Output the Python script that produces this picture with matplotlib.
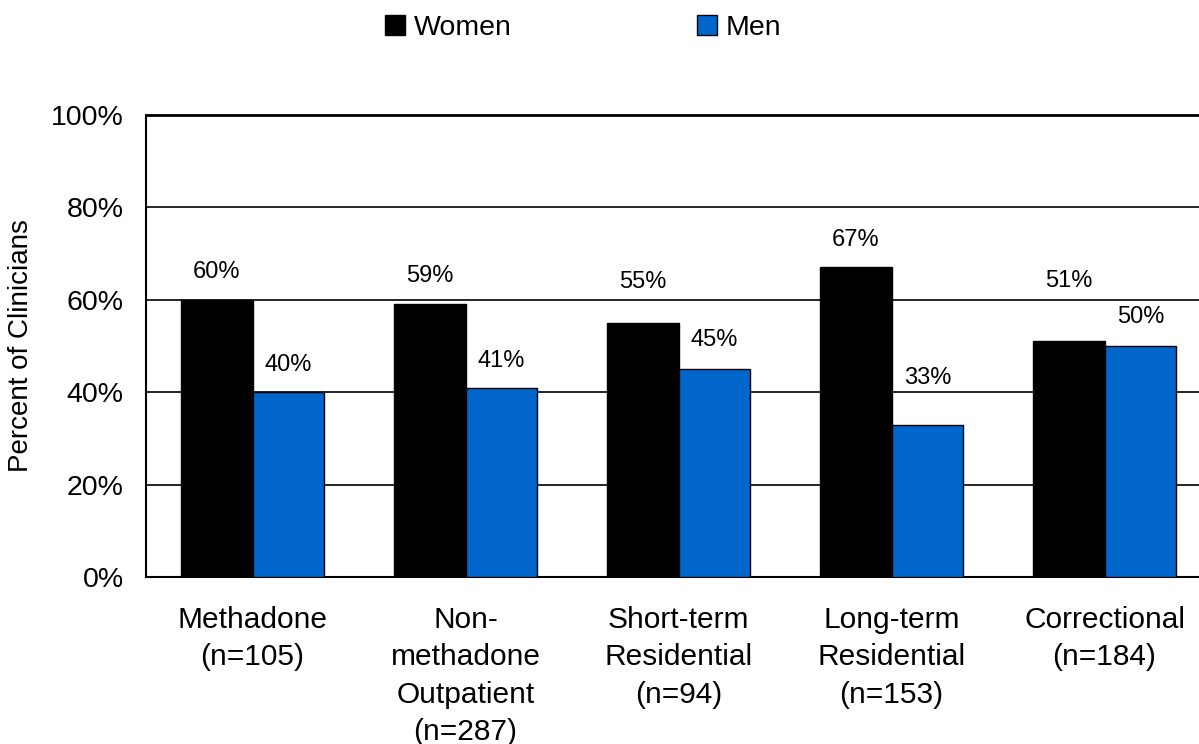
import matplotlib.pyplot as plt
import numpy as np
from matplotlib.patches import Patch

plt.rcParams['font.family'] = ['Liberation Sans', 'DejaVu Sans']

settings = ['Methadone\n(n=105)', 'Non-\nmethadone\nOutpatient\n(n=287)',
            'Short-term\nResidential\n(n=94)', 'Long-term\nResidential\n(n=153)',
            'Correctional\n(n=184)']
women = [60, 59, 55, 67, 51]
men = [40, 41, 45, 33, 50]
yticks = [0, 20, 40, 60, 80, 100]

# how far each value label sits above its bar (pixels)
women_label_lift = [28, 28, 41, 27, 60]
men_label_lift = [27, 27, 29, 47, 29]

women_color = 'black'
men_color = '#0066CC'

fig = plt.figure(figsize=(11.99, 7.44), dpi=100)
ax = fig.add_axes([146 / 1199, 167 / 744, 1065 / 1199, 462 / 744])

x = np.arange(len(settings))
w = 0.338
b1 = ax.bar(x - w / 2, women, w, color=women_color, edgecolor='black', linewidth=1, zorder=3)
b2 = ax.bar(x + w / 2, men, w, color=men_color, edgecolor='black', linewidth=1, zorder=3)

for bars, vals, lifts in ((b1, women, women_label_lift), (b2, men, men_label_lift)):
    for bar, v, lift in zip(bars, vals, lifts):
        ax.annotate(f'{v}%', (bar.get_x() + bar.get_width() / 2, v),
                    xytext=(0, lift * 0.72), textcoords='offset points',
                    ha='center', va='center', fontsize=17)

ax.set_xlim(-0.5, len(settings) - 0.5)
ax.set_ylim(0, 100)
ax.set_yticks(yticks)
ax.set_yticklabels([f'{t}%' for t in yticks], fontsize=20.5)
ax.set_xticks(x)
ax.set_xticklabels(settings, fontsize=21.5, linespacing=1.42)
ax.tick_params(axis='both', length=0)
ax.tick_params(axis='x', pad=21)
ax.tick_params(axis='y', pad=16)

ax.grid(axis='y', color='black', linewidth=1.2, zorder=0)
ax.spines['right'].set_visible(False)
ax.spines['top'].set_linewidth(2)
ax.spines['left'].set_linewidth(1.5)
ax.spines['bottom'].set_linewidth(1.5)

ax.set_ylabel('Percent of Clinicians', fontsize=20, labelpad=12)

handles = [Patch(facecolor=women_color, edgecolor='black', label='Women'),
           Patch(facecolor=men_color, edgecolor='black', label='Men')]
fig.legend(handles=handles, loc='center', bbox_to_anchor=(583 / 1199, 1 - 28 / 744),
           ncol=2, frameon=False, fontsize=20.5, handlelength=0.7, handleheight=0.7,
           handletextpad=0.3, columnspacing=6.5)

fig.savefig('out.png', dpi=100)
